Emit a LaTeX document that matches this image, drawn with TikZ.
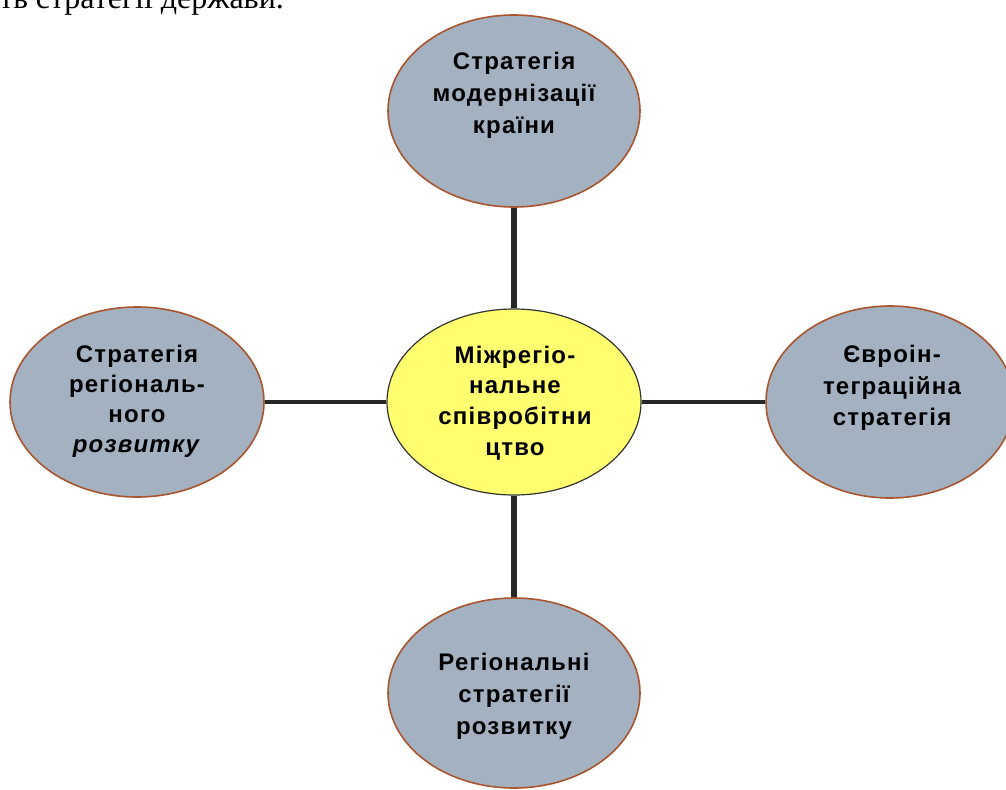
\documentclass[tikz,border=0pt]{standalone}
\usepackage{fontspec}
\setmainfont{Liberation Sans}
\newfontfamily\seriffont{Liberation Serif}
\usetikzlibrary{shapes.geometric}
\definecolor{bubblefill}{HTML}{A3B1C1}
\definecolor{bubbleedge}{HTML}{A9552F}
\definecolor{centerfill}{HTML}{FFFF70}
\tikzset{
  x=0.75pt, y=-0.75pt,
  bubble/.style={ellipse, fill=bubblefill, draw=bubbleedge, line width=1.2pt,
    inner sep=0pt},
  hub/.style={bubble, fill=centerfill, draw=black!80, line width=0.9pt},
  words/.style={inner sep=0pt, align=center,
    font=\fontsize{18}{#1}\selectfont\bfseries\addfontfeature{LetterSpace=5}},
  words/.default=24pt,
  link/.style={draw=black!85, line width=4.2pt}
}
\begin{document}
\begin{tikzpicture}
\useasboundingbox (0,0) rectangle (1006,789);
\begin{scope}
\clip (0,0) rectangle (1006,789);
\node[anchor=base west, inner sep=0pt, font=\seriffont\fontsize{24}{28}\selectfont] (head) at (-1,8) {ть стратегії держави.};
\node[bubble, minimum width=189pt, minimum height=144pt] (top) at (514,111) {};
\node[hub, minimum width=190.5pt, minimum height=139.5pt] (mid) at (514,402) {};
\node[bubble, minimum width=190.5pt, minimum height=142.5pt] (left) at (137,402) {};
\node[bubble, minimum width=186pt, minimum height=144pt] (right) at (890,402) {};
\node[bubble, minimum width=189pt, minimum height=142.5pt] (bottom) at (514,693) {};
\node[words] (toptext) at (514,95) {Стратегія\\модернізації\\країни};
\node[words=23pt] (midtext) at (515,403) {Міжрегіо-\\нальне\\співробітни\\цтво};
\node[words=22.5pt] (lefttext) at (137,401) {Стратегія\\регіональ-\\ного\\\textit{розвитку}};
\node[words=23.5pt] (righttext) at (892,388) {Євроін-\\теграційна\\стратегія};
\node[words] (bottomtext) at (514,696) {Регіональні\\стратегії\\розвитку};
\end{scope}
\draw[link] (top.south) -- (mid.north);
\draw[link] (mid.south) -- (bottom.north);
\draw[link, line width=3.2pt] (left.east) -- (mid.west);
\draw[link, line width=3.2pt] (mid.east) -- (right.west);
\end{tikzpicture}
\end{document}
